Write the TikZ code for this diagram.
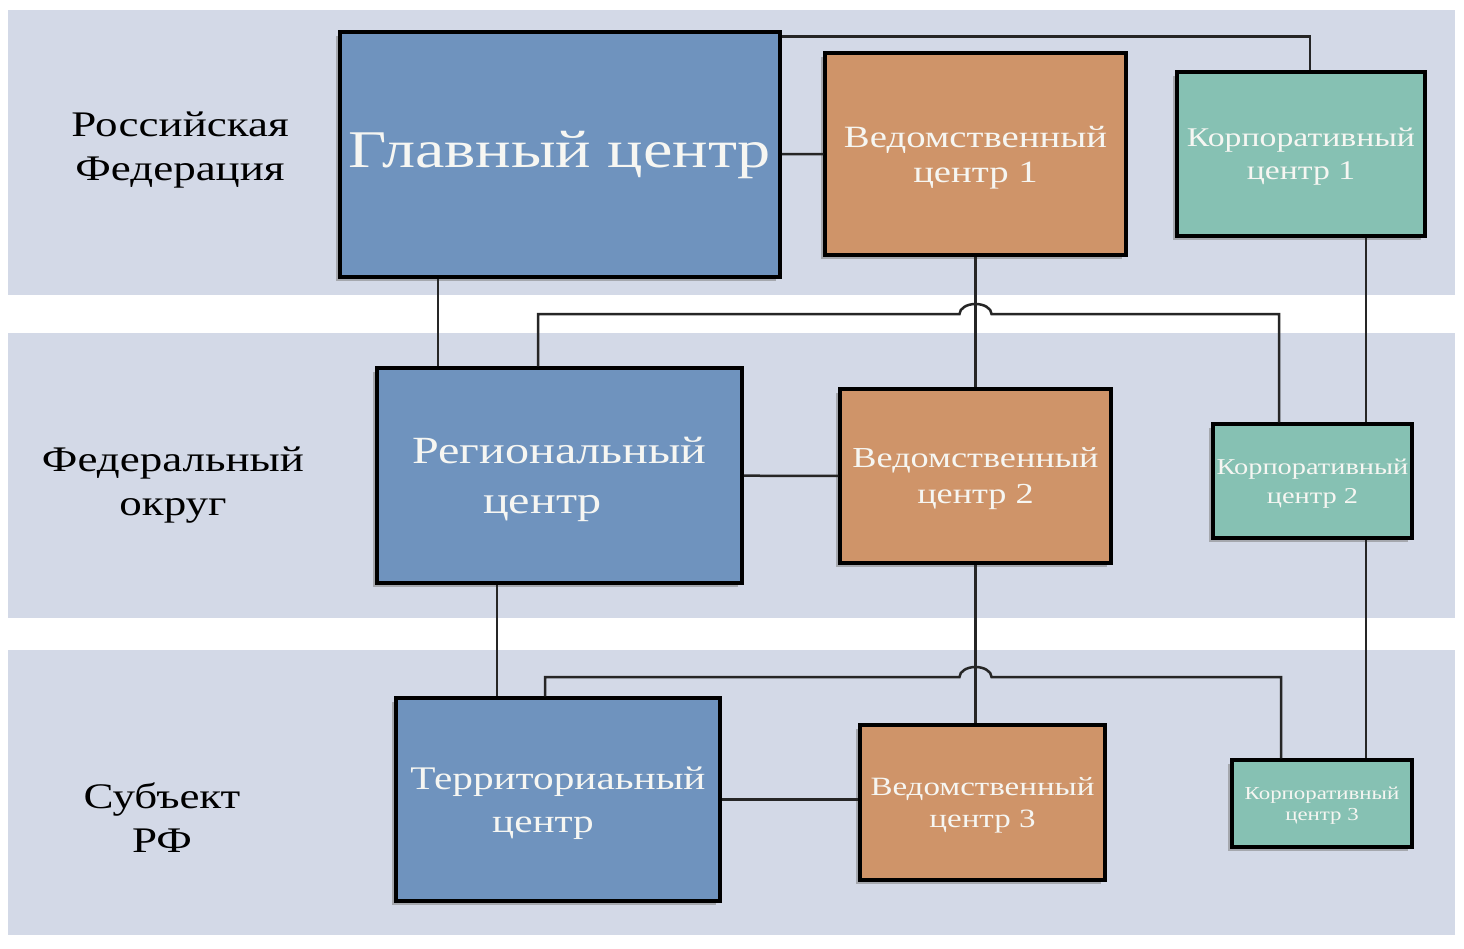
\documentclass[tikz,border=0pt]{standalone}
\usepackage{fontspec}
\setmainfont{Liberation Serif}[FakeStretch=1.25]
\usetikzlibrary{shadows, calc, positioning}
\definecolor{bandgrey}{RGB}{211,217,231}
\definecolor{centreblue}{RGB}{111,147,190}
\definecolor{deptorange}{RGB}{207,148,105}
\definecolor{corpteal}{RGB}{134,193,179}
\definecolor{labelwhite}{RGB}{246,246,242}

\begin{document}
\begin{tikzpicture}[x=1pt,y=1pt]
  \tikzset{el/.style={rectangle,draw=black,line width=3.5pt,text=labelwhite,align=center,inner sep=0pt,drop shadow={shadow xshift=-4pt,shadow yshift=-4pt,opacity=0.55}}};
  \tikzset{twoline/.style={text depth=-3pt}};
  \tikzset{centreP/.style={el,fill=centreblue}};
  \tikzset{deptE/.style={el,twoline,fill=deptorange}};
  \tikzset{corpS/.style={el,twoline,fill=corpteal}};
  \tikzset{lvl/.style={align=center,text=black,font=\fontsize{36}{44}\selectfont}};
  \tikzset{wire/.style={line width=2.5pt,black!85}};
  \def\jumpX{16};
  \def\jumpY{10};

  \useasboundingbox (0,0) rectangle (1464,-948);
  \fill[white] (0,0) rectangle (1464,-948);

  % levels
  \fill[bandgrey] (8,-10) rectangle (1455,-295);
  \fill[bandgrey] (8,-333) rectangle (1455,-618);
  \fill[bandgrey] (8,-650) rectangle (1455,-935);

  \node[lvl] (rf) at (180,-150) {Российская\\Федерация};
  \node[lvl] (fo) at (173,-485) {Федеральный\\округ};
  \node[lvl] (sub) at (162,-818) {Субъект\\РФ};

  % centres
  \node[centreP,minimum width=440pt,minimum height=245pt,font=\fontsize{53}{60}\selectfont] (glav) at (560,-154.5) {Главный центр};
  \node[deptE,minimum width=301pt,minimum height=202pt,font=\fontsize{31}{35}\selectfont] (ved1) at (975.5,-154) {Ведомственный\\центр 1};
  \node[corpS,minimum width=248pt,minimum height=164pt,font=\fontsize{27}{33}\selectfont] (korp1) at (1301,-154) {Корпоративный\\центр 1};

  \node[centreP,twoline,minimum width=365pt,minimum height=215pt,font=\fontsize{38.5}{50}\selectfont] (reg) at (559.5,-475.5) {Региональный\\центр\hspace*{34pt}};
  \node[deptE,minimum width=271pt,minimum height=174pt,font=\fontsize{29}{36}\selectfont] (ved2) at (975.5,-476) {Ведомственный\\центр 2};
  \node[corpS,minimum width=199pt,minimum height=114pt,font=\fontsize{22.7}{29}\selectfont] (korp2) at (1312.5,-481) {Корпоративный\\центр 2};

  \node[centreP,twoline,minimum width=324pt,minimum height=203pt,font=\fontsize{33}{43}\selectfont] (terr) at (558,-799.5) {Территориаьный\\центр\hspace*{30pt}};
  \node[deptE,minimum width=245pt,minimum height=155pt,font=\fontsize{26.4}{32}\selectfont] (ved3) at (982.5,-802.5) {Ведомственный\\центр 3};
  \node[corpS,minimum width=180pt,minimum height=87pt,font=\fontsize{18.3}{21}\selectfont] (korp3) at (1322,-803.5) {Корпоративный\\центр 3};

  \coordinate (bus1) at (ved1.south |- 0,-314);
  \coordinate (bus2) at (ved2.south |- 0,-677);

  % links
  \draw[wire] ([yshift=-6pt]glav.north east) -| ([xshift=9pt]korp1.north);
  \draw[wire] (glav) -- (ved1);
  \draw[wire] (ved1) -- (ved2);
  \draw[wire] ([xshift=-21.5pt]reg.north) |- ([xshift=-\jumpX pt]bus1) arc[start angle=180,end angle=0,x radius=\jumpX,y radius=\jumpY] -| ([xshift=-33.5pt]korp2.north);
  \draw[wire] ([xshift=65pt]korp1.south) -- ([xshift=65pt]korp1.south |- korp2.north);
  \draw[wire] ([xshift=-122pt]glav.south) -- ([xshift=-122pt]glav.south |- reg.north);
  \draw[wire] (reg) -- (ved2);
  \draw[wire] ([xshift=-62.5pt]reg.south) -- ([xshift=-62.5pt]reg.south |- terr.north);
  \draw[wire] (ved2.south) -- (ved2.south |- ved3.north);
  \draw[wire] ([xshift=-13pt]terr.north) |- ([xshift=-\jumpX pt]bus2) arc[start angle=180,end angle=0,x radius=\jumpX,y radius=\jumpY] -| ([xshift=-41pt]korp3.north);
  \draw[wire] ([xshift=53.5pt]korp2.south) -- ([xshift=53.5pt]korp2.south |- korp3.north);
  \draw[wire] (terr.east) -- (terr.east -| ved3.west);
\end{tikzpicture}
\end{document}
